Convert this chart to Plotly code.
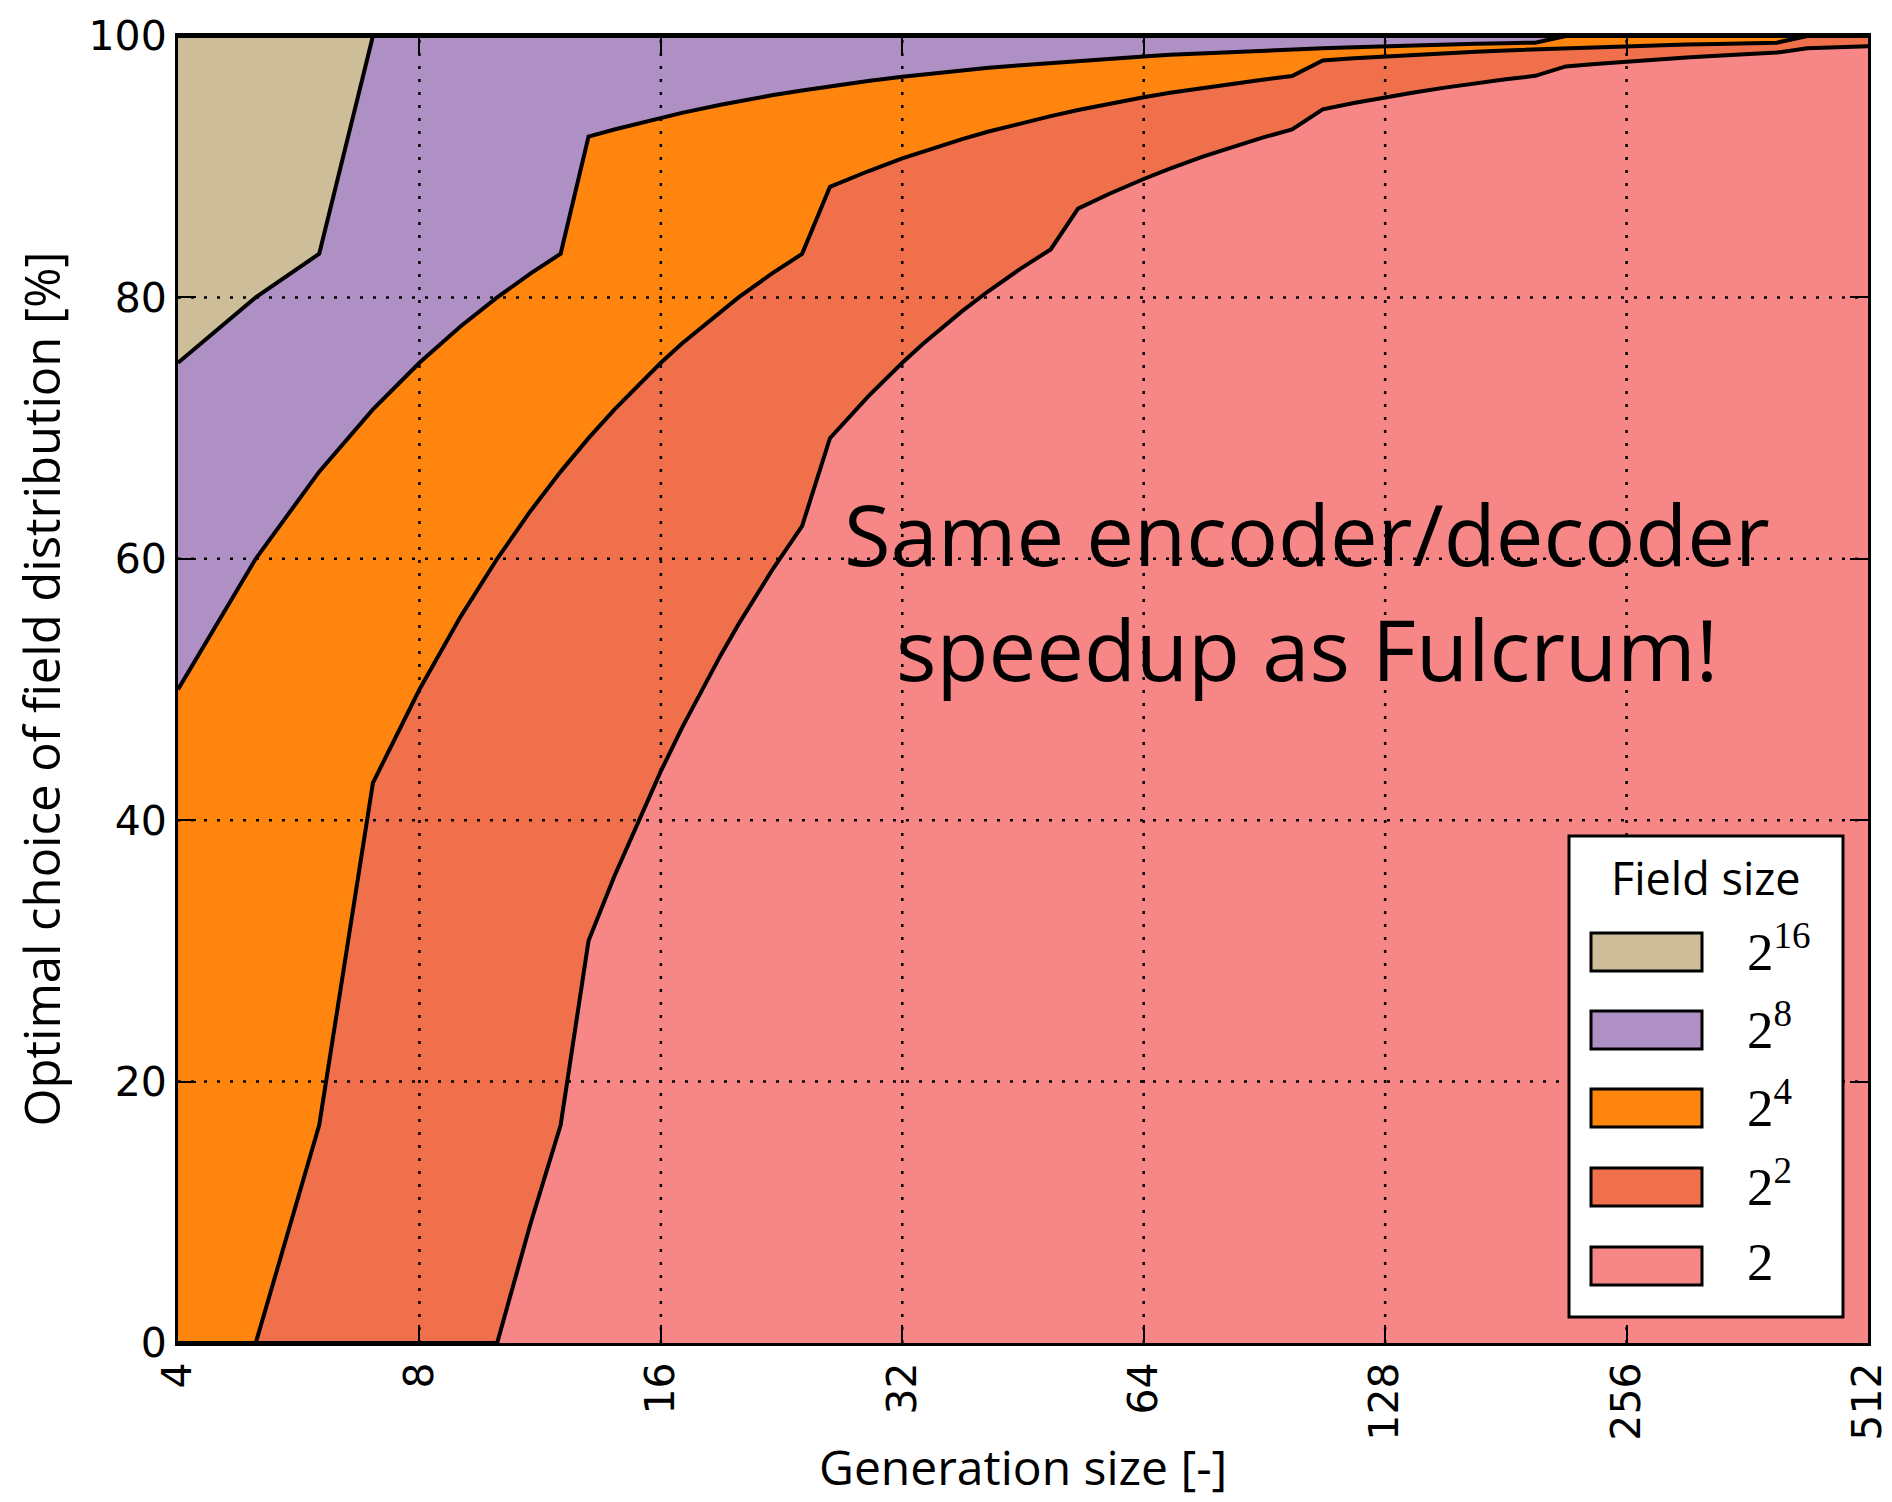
import math
import plotly.graph_objects as go

# ---------------- data ----------------
gen_size = [4, 5, 6, 7, 8, 9, 10, 11, 12, 13, 14, 16, 17, 19, 20, 22, 24, 26, 29,
            32, 34, 38, 41, 45, 49, 53, 58, 64, 69, 76, 83, 90, 98, 107, 117,
            128, 139, 152, 166, 181, 197, 215, 234, 256, 279, 304, 332, 362, 394,
            430, 469, 512]

# share (%) of each field size, bottom layer first
pct_f2 = [0, 0, 0, 0, 0, 0, 0, 9.09, 16.67, 30.77, 35.71, 43.75, 47.06, 52.63, 55.0,
          59.09, 62.5, 69.23, 72.41, 75.0, 76.47, 78.95, 80.49, 82.22, 83.67, 86.79,
          87.93, 89.06, 89.86, 90.79, 91.57, 92.22, 92.86, 94.39, 94.87, 95.31, 95.68,
          96.05, 96.39, 96.69, 96.95, 97.67, 97.86, 98.05, 98.21, 98.36, 98.49, 98.62,
          98.73, 99.07, 99.15, 99.22]
pct_f4 = [0, 0, 16.67, 42.86, 50.0, 55.56, 60.0, 54.55, 50.0, 38.46, 35.71, 31.25,
          29.41, 26.32, 25.0, 22.73, 20.83, 19.23, 17.24, 15.63, 14.71, 13.16, 12.2,
          11.11, 10.2, 7.55, 6.9, 6.25, 5.8, 5.26, 4.82, 4.44, 4.08, 3.74, 3.42, 3.13,
          2.88, 2.63, 2.41, 2.21, 2.03, 1.4, 1.28, 1.17, 1.08, 0.99, 0.9, 0.83, 0.76,
          0.93, 0.85, 0.78]
pct_f16 = [50.0, 60.0, 50.0, 28.57, 25.0, 22.22, 20.0, 18.18, 16.67, 23.08, 21.43,
           18.75, 17.65, 15.79, 15.0, 13.64, 12.5, 7.69, 6.9, 6.25, 5.88, 5.26, 4.88,
           4.44, 4.08, 3.77, 3.45, 3.13, 2.9, 2.63, 2.41, 2.22, 2.04, 0.93, 0.85, 0.78,
           0.72, 0.66, 0.6, 0.55, 0.51, 0.93, 0.85, 0.78, 0.72, 0.66, 0.6, 0.55, 0.51,
           0, 0, 0]
pct_f256 = [25.0, 20.0, 16.67, 28.57, 25.0, 22.22, 20.0, 18.18, 16.67, 7.69, 7.14,
            6.25, 5.88, 5.26, 5.0, 4.55, 4.17, 3.85, 3.45, 3.13, 2.94, 2.63, 2.44,
            2.22, 2.04, 1.89, 1.72, 1.56, 1.45, 1.32, 1.2, 1.11, 1.02, 0.93, 0.85,
            0.78, 0.72, 0.66, 0.6, 0.55, 0.51, 0, 0, 0, 0, 0, 0, 0, 0, 0, 0, 0]
pct_f65536 = [25.0, 20.0, 16.67] + [0] * 49

series_names = ["2", "2<sup>2</sup>", "2<sup>4</sup>", "2<sup>8</sup>", "2<sup>16</sup>"]
series_values = [pct_f2, pct_f4, pct_f16, pct_f256, pct_f65536]
series_colors = ["#F78787", "#F0704B", "#FF850E", "#AF90C4", "#CEBD99"]

x_ticks = [4, 8, 16, 32, 64, 128, 256, 512]
x_tick_labels = ["4", "8", "16", "32", "64", "128", "256", "512"]
y_ticks = [0, 20, 40, 60, 80, 100]
y_tick_labels = ["0", "20", "40", "60", "80", "100"]

# ---------------- layout geometry (pixels) ----------------
W, H = 1892, 1502
L, R, T, B = 178, 1868, 36, 1343


def px_x(x):
    return (x - L) / (R - L)


def px_y(y):
    return (B - y) / (B - T)


fig = go.Figure()

for name, vals, col in zip(series_names, series_values, series_colors):
    fig.add_trace(go.Scatter(
        x=gen_size, y=vals, name=name, stackgroup="one", mode="lines",
        line=dict(color="black", width=4), fillcolor=col,
        showlegend=False, hoverinfo="skip"))

# dotted grid drawn above the areas
for xv in x_ticks[1:-1]:
    fig.add_trace(go.Scatter(x=[xv, xv], y=[0, 100], mode="lines",
                             line=dict(color="black", width=2.5, dash="3px,10px"),
                             showlegend=False, hoverinfo="skip"))
for yv in y_ticks[1:-1]:
    fig.add_trace(go.Scatter(x=[4, 512], y=[yv, yv], mode="lines",
                             line=dict(color="black", width=2.5, dash="3px,10px"),
                             showlegend=False, hoverinfo="skip"))

axis_common = dict(
    ticks="inside", ticklen=18, tickwidth=2, tickcolor="black",
    showline=True, linecolor="black", linewidth=3, mirror="ticks",
    showgrid=False, zeroline=False, automargin=False,
    tickfont=dict(family="DejaVu Sans", size=41, color="black"),
)

fig.update_xaxes(type="log", range=[math.log10(4), math.log10(512)],
                 tickmode="array", tickvals=x_ticks, ticktext=x_tick_labels,
                 tickangle=-90, **axis_common)
fig.update_yaxes(range=[0, 100], tickmode="array", tickvals=y_ticks,
                 ticktext=y_tick_labels, **axis_common)

annotations = [
    dict(text="Generation size [-]", x=0.5, y=px_y(1501), xref="paper", yref="paper",
         xanchor="center", yanchor="bottom", showarrow=False,
         font=dict(family="Open Sans", size=48, color="black")),
    dict(text="Optimal choice of field distribution [%]", x=px_x(40), y=0.5,
         xref="paper", yref="paper", xanchor="center", yanchor="middle",
         textangle=-90, showarrow=False,
         font=dict(family="Open Sans", size=49, color="black")),
    dict(text="Same encoder/decoder", x=px_x(1307), y=px_y(533), xref="paper",
         yref="paper", xanchor="center", yanchor="middle", showarrow=False,
         font=dict(family="Open Sans", size=85, color="black")),
    dict(text="speedup as Fulcrum!", x=px_x(1307), y=px_y(648), xref="paper",
         yref="paper", xanchor="center", yanchor="middle", showarrow=False,
         font=dict(family="Open Sans", size=85, color="black")),
    dict(text="Field size", x=px_x(1706), y=px_y(877), xref="paper", yref="paper",
         xanchor="center", yanchor="middle", showarrow=False,
         font=dict(family="Open Sans", size=45, color="black")),
]

shapes = [dict(type="rect", xref="paper", yref="paper",
               x0=px_x(1569), x1=px_x(1843), y0=px_y(1317), y1=px_y(836),
               fillcolor="white", line=dict(color="black", width=3), layer="above")]

row_centers = [952, 1030, 1108, 1187, 1266]
legend_order = list(range(len(series_names)))[::-1]
for rc, idx in zip(row_centers, legend_order):
    shapes.append(dict(type="rect", xref="paper", yref="paper",
                       x0=px_x(1591), x1=px_x(1702), y0=px_y(rc + 19), y1=px_y(rc - 19),
                       fillcolor=series_colors[idx], line=dict(color="black", width=3),
                       layer="above"))
    annotations.append(dict(text=series_names[idx], x=px_x(1745), y=px_y(rc - 4),
                            xref="paper", yref="paper", xanchor="left",
                            yanchor="middle", showarrow=False,
                            font=dict(family="Liberation Serif", size=53, color="black")))

fig.update_layout(
    width=W, height=H, autosize=False,
    margin=dict(l=L, r=W - R, t=T, b=H - B, pad=0),
    paper_bgcolor="white", plot_bgcolor="white",
    annotations=annotations, shapes=shapes, showlegend=False,
)

fig.write_html("out.html")
